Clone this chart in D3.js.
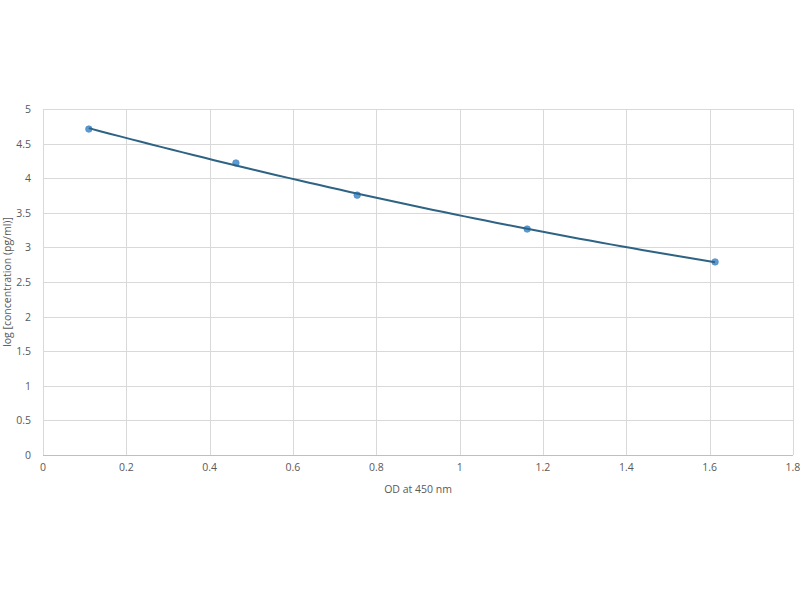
<!DOCTYPE html>
<html>
<head>
<meta charset="utf-8">
<script src="https://cdn.jsdelivr.net/npm/d3@7"></script>
<style>
  html, body { margin: 0; padding: 0; background: #fff; }
  svg { display: block; }
  text { font-family: "Open Sans", "Noto Sans", sans-serif; fill: #595959; }
</style>
</head>
<body>
<svg id="chart" width="800" height="600"></svg>
<script>
const odValues = [0.11, 0.463, 0.754, 1.162, 1.613];
const logConc = [4.71, 4.22, 3.755, 3.265, 2.79];
const xTicks = [0, 0.2, 0.4, 0.6, 0.8, 1, 1.2, 1.4, 1.6, 1.8];
const yTicks = [0, 0.5, 1, 1.5, 2, 2.5, 3, 3.5, 4, 4.5, 5];
const xTitle = "OD at 450 nm";
const yTitle = "log [concentration (pg/ml)]";

const svg = d3.select("#chart");
const x = d3.scaleLinear().domain([0, 1.8]).range([43, 793]);
const y = d3.scaleLinear().domain([0, 5]).range([455, 109]);

// gridlines
svg.append("g").selectAll("line.h").data(yTicks).join("line")
  .attr("x1", x(0)).attr("x2", x(1.8))
  .attr("y1", d => Math.round(y(d)) + 0.5).attr("y2", d => Math.round(y(d)) + 0.5)
  .attr("stroke", d => d === 0 ? "#bfbfbf" : "#d9d9d9").attr("stroke-width", 1);
svg.append("g").selectAll("line.v").data(xTicks).join("line")
  .attr("y1", y(0)).attr("y2", y(5))
  .attr("x1", d => Math.round(x(d)) + 0.5).attr("x2", d => Math.round(x(d)) + 0.5)
  .attr("stroke", "#d9d9d9").attr("stroke-width", 1);

// tick labels
svg.append("g").selectAll("text").data(xTicks).join("text")
  .attr("x", d => x(d)).attr("y", 471)
  .attr("text-anchor", "middle").attr("font-size", 10.5)
  .text(d => d3.format("~g")(d));
svg.append("g").selectAll("text").data(yTicks).join("text")
  .attr("x", 31).attr("y", d => y(d) + 4)
  .attr("text-anchor", "end").attr("font-size", 10.5)
  .text(d => d3.format("~g")(d));

// axis titles
svg.append("text").attr("x", x(0.9)).attr("y", 493)
  .attr("text-anchor", "middle").attr("font-size", 10.5).text(xTitle);
svg.append("text").attr("transform", `translate(11,${y(2.5)}) rotate(-90)`)
  .attr("text-anchor", "middle").attr("font-size", 10.5).text(yTitle);

// quadratic least-squares trendline computed from the data
function polyFit2(xs, ys) {
  const n = xs.length;
  let s = [0,0,0,0,0], t = [0,0,0];
  for (let i = 0; i < n; i++) {
    for (let k = 0; k < 5; k++) s[k] += Math.pow(xs[i], k);
    for (let k = 0; k < 3; k++) t[k] += ys[i] * Math.pow(xs[i], k);
  }
  const A = [[s[0],s[1],s[2],t[0]],[s[1],s[2],s[3],t[1]],[s[2],s[3],s[4],t[2]]];
  for (let i = 0; i < 3; i++) {
    for (let j = i + 1; j < 3; j++) {
      const f = A[j][i] / A[i][i];
      for (let k = i; k < 4; k++) A[j][k] -= f * A[i][k];
    }
  }
  const c = [0,0,0];
  for (let i = 2; i >= 0; i--) {
    let v = A[i][3];
    for (let k = i + 1; k < 3; k++) v -= A[i][k] * c[k];
    c[i] = v / A[i][i];
  }
  return c;
}
const c = polyFit2(odValues, logConc);
const xMin = d3.min(odValues), xMax = d3.max(odValues);
const trend = d3.range(0, 61).map(i => {
  const xv = xMin + (xMax - xMin) * i / 60;
  return [xv, c[0] + c[1] * xv + c[2] * xv * xv];
});

// markers
svg.append("g").selectAll("circle").data(odValues).join("circle")
  .attr("cx", d => x(d)).attr("cy", (d, i) => y(logConc[i]))
  .attr("r", 3.3).attr("fill", "#5b9bd5").attr("stroke", "#4a86c0").attr("stroke-width", 0.6);

svg.append("path").datum(trend)
  .attr("d", d3.line().x(d => x(d[0])).y(d => y(d[1])))
  .attr("fill", "none").attr("stroke", "#2e6384").attr("stroke-width", 2);
</script>
</body>
</html>
